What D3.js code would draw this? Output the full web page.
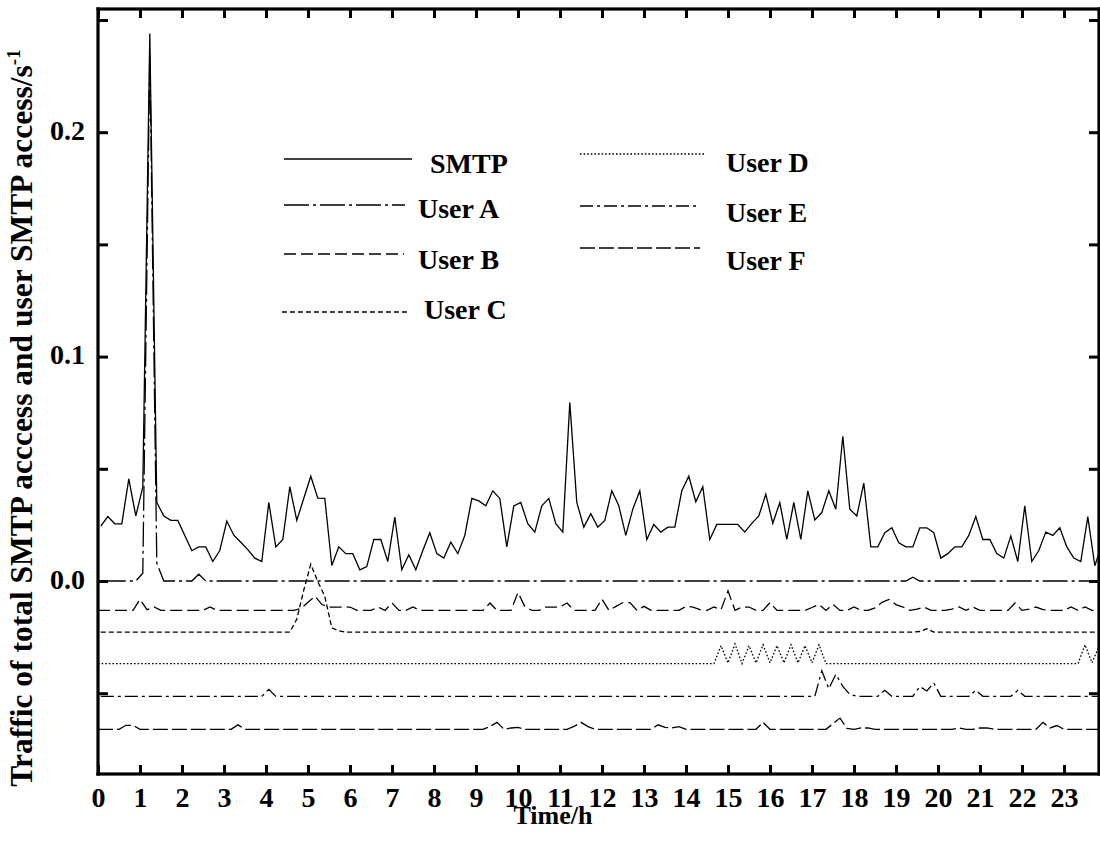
<!DOCTYPE html>
<html>
<head>
<meta charset="utf-8">
<script src="https://cdn.jsdelivr.net/npm/d3@7"></script>
<style>
  html, body { margin: 0; padding: 0; background: #fff; overflow: hidden; }
  svg { display: block; }
  text { font-family: "Liberation Serif", "Times New Roman", serif; font-weight: bold; fill: #000; }
</style>
</head>
<body>
<svg id="chart" width="1100" height="841" viewBox="0 0 1100 841"></svg>
<script>
// ---------------- DATA ----------------
// sample times (minutes after midnight), 10-minute sampling
const minutesSMTP = d3.range(144).map(i => 4 + 10 * i);   // SMTP, users A, C, E
const minutesUser = d3.range(144).map(i => 10 * i);       // users B, D, F

const hourTicks = d3.range(0, 24);
const yLabelTicks = [0, 0.1, 0.2];
const yMinorTicks = [-0.05, 0, 0.05, 0.1, 0.15, 0.2, 0.25];

const smtp = [
  0.0245,0.0287,0.0255,0.0255,0.0455,0.0290,0.0418,0.2440,0.0350,0.0290,0.0270,0.0270,
  0.0203,0.0135,0.0152,0.0152,0.0087,0.0136,0.0267,0.0204,0.0173,0.0140,0.0102,0.0087,
  0.0350,0.0152,0.0185,0.0420,0.0270,0.0369,0.0467,0.0369,0.0368,0.0069,0.0152,0.0122,
  0.0122,0.0050,0.0064,0.0185,0.0185,0.0087,0.0285,0.0050,0.0117,0.0050,0.0136,0.0215,
  0.0122,0.0102,0.0173,0.0122,0.0203,0.0368,0.0357,0.0335,0.0402,0.0368,0.0152,0.0335,
  0.0350,0.0255,0.0218,0.0335,0.0368,0.0255,0.0218,0.0795,0.0350,0.0240,0.0300,0.0240,
  0.0270,0.0402,0.0335,0.0203,0.0320,0.0402,0.0185,0.0252,0.0218,0.0240,0.0240,0.0402,
  0.0467,0.0353,0.0420,0.0185,0.0252,0.0252,0.0252,0.0252,0.0218,0.0257,0.0290,0.0387,
  0.0257,0.0350,0.0185,0.0350,0.0185,0.0402,0.0272,0.0305,0.0402,0.0320,0.0645,0.0320,
  0.0290,0.0436,0.0152,0.0152,0.0215,0.0237,0.0170,0.0152,0.0152,0.0237,0.0237,0.0215,
  0.0102,0.0122,0.0152,0.0152,0.0203,0.0287,0.0185,0.0185,0.0122,0.0102,0.0200,0.0087,
  0.0335,0.0087,0.0136,0.0218,0.0203,0.0237,0.0152,0.0102,0.0087,0.0287,0.0068,0.0160
];

const userA = [
  0,0,0,0,0,0,0.0035,0.235,0.008,0,0,0,
  0,0,0.003,0,0,0,0,0,0,0,0,0,
  0,0,0,0,0,0,0,0,0,0,0,0,
  0,0,0,0,0,0,0,0,0,0,0,0,
  0,0,0,0,0,0,0,0,0,0,0,0,
  0,0,0,0,0,0,0,0,0,0,0,0,
  0,0,0,0,0,0,0,0,0,0,0,0,
  0,0,0,0,0,0,0,0,0,0,0,0,
  0,0,0,0,0,0,0,0,0,0,0,0,
  0,0,0,0,0,0,0,0,0.0017,0,0,0,
  0,0,0,0,0,0,0,0,0,0,0,0,
  0,0,0,0,0,0,0,0,0,0,0,0
];

const userB = [
  -0.0131,-0.0131,-0.0131,-0.0131,-0.0131,-0.0131,-0.0082,-0.0128,-0.0116,-0.0131,-0.0131,-0.0131,
  -0.0131,-0.0131,-0.0131,-0.0131,-0.0116,-0.0131,-0.0131,-0.0131,-0.0131,-0.0131,-0.0131,-0.0131,
  -0.0131,-0.0131,-0.0131,-0.0131,-0.0131,-0.0122,-0.0095,-0.0068,-0.0105,-0.0116,-0.0116,-0.0116,
  -0.0116,-0.0131,-0.0131,-0.0131,-0.0116,-0.0131,-0.0098,-0.0131,-0.0131,-0.0116,-0.0131,-0.0131,
  -0.0131,-0.0131,-0.0131,-0.0131,-0.0131,-0.0131,-0.0131,-0.0131,-0.0098,-0.0131,-0.0131,-0.0131,
  -0.0051,-0.0116,-0.0131,-0.0131,-0.0116,-0.0116,-0.0116,-0.0098,-0.0131,-0.0131,-0.0131,-0.0131,
  -0.0081,-0.0131,-0.0113,-0.0096,-0.0096,-0.0131,-0.0113,-0.0131,-0.0131,-0.0131,-0.0131,-0.0131,
  -0.0113,-0.0116,-0.0128,-0.0131,-0.0116,-0.0128,-0.0044,-0.0131,-0.0116,-0.0116,-0.0131,-0.0131,
  -0.0096,-0.0131,-0.0131,-0.0131,-0.0131,-0.0131,-0.0118,-0.0104,-0.0131,-0.0104,-0.0131,-0.0131,
  -0.0116,-0.0131,-0.0131,-0.0120,-0.0095,-0.0082,-0.0105,-0.0116,-0.0131,-0.0125,-0.0116,-0.0131,
  -0.0131,-0.0131,-0.0125,-0.0116,-0.0131,-0.0116,-0.0131,-0.0131,-0.0131,-0.0131,-0.0131,-0.0098,
  -0.0131,-0.0125,-0.0116,-0.0128,-0.0131,-0.0131,-0.0131,-0.0116,-0.0131,-0.0116,-0.0131,-0.0131
];

const userC = [
  -0.0228,-0.0228,-0.0228,-0.0228,-0.0228,-0.0228,-0.0228,-0.0228,-0.0228,-0.0228,-0.0228,-0.0228,
  -0.0228,-0.0228,-0.0228,-0.0228,-0.0228,-0.0228,-0.0228,-0.0228,-0.0228,-0.0228,-0.0228,-0.0228,
  -0.0228,-0.0228,-0.0228,-0.0228,-0.0170,-0.0040,0.0075,-0.0003,-0.0068,-0.0209,-0.0222,-0.0228,
  -0.0228,-0.0228,-0.0228,-0.0228,-0.0228,-0.0228,-0.0228,-0.0228,-0.0228,-0.0228,-0.0228,-0.0228,
  -0.0228,-0.0228,-0.0228,-0.0228,-0.0228,-0.0228,-0.0228,-0.0228,-0.0228,-0.0228,-0.0228,-0.0228,
  -0.0228,-0.0228,-0.0228,-0.0228,-0.0228,-0.0228,-0.0228,-0.0228,-0.0228,-0.0228,-0.0228,-0.0228,
  -0.0228,-0.0228,-0.0228,-0.0228,-0.0228,-0.0228,-0.0228,-0.0228,-0.0228,-0.0228,-0.0228,-0.0228,
  -0.0228,-0.0228,-0.0228,-0.0228,-0.0228,-0.0228,-0.0228,-0.0228,-0.0228,-0.0228,-0.0228,-0.0228,
  -0.0228,-0.0228,-0.0228,-0.0228,-0.0228,-0.0228,-0.0228,-0.0228,-0.0228,-0.0228,-0.0228,-0.0228,
  -0.0228,-0.0228,-0.0228,-0.0228,-0.0228,-0.0228,-0.0228,-0.0228,-0.0228,-0.0225,-0.0213,-0.0228,
  -0.0228,-0.0228,-0.0228,-0.0228,-0.0228,-0.0228,-0.0228,-0.0228,-0.0228,-0.0228,-0.0228,-0.0228,
  -0.0228,-0.0228,-0.0228,-0.0228,-0.0228,-0.0228,-0.0228,-0.0228,-0.0228,-0.0228,-0.0228,-0.0228
];

const userD = [
  -0.0368,-0.0368,-0.0368,-0.0368,-0.0368,-0.0368,-0.0368,-0.0368,-0.0368,-0.0368,-0.0368,-0.0368,
  -0.0368,-0.0368,-0.0368,-0.0368,-0.0368,-0.0368,-0.0368,-0.0368,-0.0368,-0.0368,-0.0368,-0.0368,
  -0.0368,-0.0368,-0.0368,-0.0368,-0.0368,-0.0368,-0.0368,-0.0368,-0.0368,-0.0368,-0.0368,-0.0368,
  -0.0368,-0.0368,-0.0368,-0.0368,-0.0368,-0.0368,-0.0368,-0.0368,-0.0368,-0.0368,-0.0368,-0.0368,
  -0.0368,-0.0368,-0.0368,-0.0368,-0.0368,-0.0368,-0.0368,-0.0368,-0.0368,-0.0368,-0.0368,-0.0368,
  -0.0368,-0.0368,-0.0368,-0.0368,-0.0368,-0.0368,-0.0368,-0.0368,-0.0368,-0.0368,-0.0368,-0.0368,
  -0.0368,-0.0368,-0.0368,-0.0368,-0.0368,-0.0368,-0.0368,-0.0368,-0.0368,-0.0368,-0.0368,-0.0368,
  -0.0368,-0.0368,-0.0368,-0.0368,-0.0368,-0.0288,-0.0365,-0.0280,-0.0368,-0.0288,-0.0365,-0.0284,
  -0.0365,-0.0288,-0.0365,-0.0284,-0.0365,-0.0288,-0.0365,-0.0284,-0.0368,-0.0368,-0.0368,-0.0368,
  -0.0368,-0.0368,-0.0368,-0.0368,-0.0368,-0.0368,-0.0368,-0.0368,-0.0368,-0.0368,-0.0368,-0.0368,
  -0.0368,-0.0368,-0.0368,-0.0368,-0.0368,-0.0368,-0.0368,-0.0368,-0.0368,-0.0368,-0.0368,-0.0368,
  -0.0368,-0.0368,-0.0368,-0.0368,-0.0368,-0.0368,-0.0368,-0.0368,-0.0368,-0.0284,-0.0365,-0.0290
];

const userE = [
  -0.0514,-0.0514,-0.0514,-0.0514,-0.0514,-0.0514,-0.0514,-0.0514,-0.0514,-0.0514,-0.0514,-0.0514,
  -0.0514,-0.0514,-0.0514,-0.0514,-0.0514,-0.0514,-0.0514,-0.0514,-0.0514,-0.0514,-0.0514,-0.0514,
  -0.0483,-0.0514,-0.0514,-0.0514,-0.0514,-0.0514,-0.0514,-0.0514,-0.0514,-0.0514,-0.0514,-0.0514,
  -0.0514,-0.0514,-0.0514,-0.0514,-0.0514,-0.0514,-0.0514,-0.0514,-0.0514,-0.0514,-0.0514,-0.0514,
  -0.0514,-0.0514,-0.0514,-0.0514,-0.0514,-0.0514,-0.0514,-0.0514,-0.0514,-0.0514,-0.0514,-0.0514,
  -0.0514,-0.0514,-0.0514,-0.0514,-0.0514,-0.0514,-0.0514,-0.0514,-0.0514,-0.0514,-0.0514,-0.0514,
  -0.0514,-0.0514,-0.0514,-0.0514,-0.0514,-0.0514,-0.0514,-0.0514,-0.0514,-0.0514,-0.0514,-0.0514,
  -0.0514,-0.0514,-0.0514,-0.0514,-0.0514,-0.0514,-0.0514,-0.0514,-0.0514,-0.0514,-0.0514,-0.0514,
  -0.0514,-0.0514,-0.0514,-0.0514,-0.0514,-0.0514,-0.0514,-0.0400,-0.0480,-0.0416,-0.0470,-0.0505,
  -0.0514,-0.0514,-0.0514,-0.0514,-0.0487,-0.0514,-0.0514,-0.0514,-0.0514,-0.0470,-0.0490,-0.0454,
  -0.0514,-0.0514,-0.0514,-0.0514,-0.0514,-0.0487,-0.0514,-0.0514,-0.0514,-0.0514,-0.0514,-0.0487,
  -0.0514,-0.0514,-0.0514,-0.0514,-0.0514,-0.0514,-0.0514,-0.0514,-0.0514,-0.0514,-0.0514,-0.0514
];

const userF = [
  -0.0661,-0.0661,-0.0661,-0.0661,-0.0643,-0.0643,-0.0661,-0.0661,-0.0661,-0.0661,-0.0661,-0.0661,
  -0.0661,-0.0661,-0.0661,-0.0661,-0.0661,-0.0661,-0.0661,-0.0661,-0.0641,-0.0661,-0.0661,-0.0661,
  -0.0661,-0.0661,-0.0661,-0.0661,-0.0661,-0.0661,-0.0661,-0.0661,-0.0661,-0.0661,-0.0661,-0.0661,
  -0.0661,-0.0661,-0.0661,-0.0661,-0.0661,-0.0661,-0.0661,-0.0661,-0.0661,-0.0661,-0.0661,-0.0661,
  -0.0661,-0.0661,-0.0661,-0.0661,-0.0661,-0.0661,-0.0661,-0.0661,-0.0648,-0.0630,-0.0661,-0.0655,
  -0.0652,-0.0661,-0.0661,-0.0661,-0.0661,-0.0661,-0.0661,-0.0661,-0.0648,-0.0630,-0.0649,-0.0661,
  -0.0661,-0.0661,-0.0661,-0.0661,-0.0661,-0.0661,-0.0661,-0.0661,-0.0641,-0.0652,-0.0655,-0.0649,
  -0.0661,-0.0661,-0.0661,-0.0661,-0.0661,-0.0661,-0.0661,-0.0661,-0.0661,-0.0661,-0.0661,-0.0630,
  -0.0661,-0.0661,-0.0661,-0.0661,-0.0661,-0.0661,-0.0661,-0.0661,-0.0661,-0.0636,-0.0611,-0.0657,
  -0.0661,-0.0655,-0.0655,-0.0661,-0.0661,-0.0661,-0.0661,-0.0661,-0.0661,-0.0661,-0.0661,-0.0661,
  -0.0661,-0.0661,-0.0661,-0.0655,-0.0661,-0.0661,-0.0655,-0.0655,-0.0661,-0.0661,-0.0661,-0.0661,
  -0.0661,-0.0661,-0.0661,-0.0630,-0.0655,-0.0644,-0.0661,-0.0661,-0.0661,-0.0661,-0.0661,-0.0661
];

const seriesNames = ["SMTP", "User A", "User B", "User C", "User D", "User E", "User F"];

// ---------------- STYLE / LAYOUT ----------------
const W = 1100, H = 841;
const plotL = 98, plotR = 1099, plotT = 9, plotB = 774;

const x = d3.scaleLinear().domain([0, 1001 / 42]).range([plotL, plotR]);
const y = d3.scaleLinear().domain([-(plotB - 581) / 2244, (581 - plotT) / 2244]).range([plotB, plotT]);

const styles = {
  "SMTP":   { dash: null },
  "User A": { dash: "25,4,3,4" },
  "User B": { dash: "12,5" },
  "User C": { dash: "5,3" },
  "User D": { dash: "1.6,2" },
  "User E": { dash: "13,4,3,4" },
  "User F": { dash: "15,4" }
};

const series = [
  { name: "SMTP",   t: minutesSMTP, v: smtp },
  { name: "User A", t: minutesSMTP, v: userA },
  { name: "User B", t: minutesUser, v: userB },
  { name: "User C", t: minutesSMTP, v: userC },
  { name: "User D", t: minutesUser, v: userD },
  { name: "User E", t: minutesSMTP, v: userE },
  { name: "User F", t: minutesUser, v: userF }
];

const svg = d3.select("#chart");
svg.append("rect").attr("width", W).attr("height", H).attr("fill", "#fff");

svg.append("defs").append("clipPath").attr("id", "clip")
  .append("rect").attr("x", plotL).attr("y", plotT)
  .attr("width", plotR - plotL).attr("height", plotB - plotT);

// data lines
const line = d3.line().x(d => x(d[0] / 60)).y(d => y(d[1]));
const gLines = svg.append("g").attr("clip-path", "url(#clip)");
series.slice().reverse().forEach(s => {
  const pts = s.t.map((t, i) => [t, s.v[i]]);
  gLines.append("path")
    .datum(pts)
    .attr("d", line)
    .attr("fill", "none")
    .attr("stroke", "#000")
    .attr("stroke-width", 1.3)
    .attr("stroke-linejoin", "miter")
    .attr("stroke-dasharray", styles[s.name].dash);
});

// axes
const fmtY = d3.format(".1f");
const axB = svg.append("g").attr("transform", `translate(0,${plotB})`)
  .call(d3.axisBottom(x).tickValues(hourTicks).tickSize(-9).tickPadding(13).tickFormat(d3.format("d")));
const axT = svg.append("g").attr("transform", `translate(0,${plotT})`)
  .call(d3.axisTop(x).tickValues(hourTicks).tickSize(-9).tickFormat(""));
const axL = svg.append("g").attr("transform", `translate(${plotL},0)`)
  .call(d3.axisLeft(y).tickValues(yMinorTicks).tickSize(-10).tickPadding(13)
    .tickFormat(d => yLabelTicks.some(v => Math.abs(v - d) < 1e-9) ? fmtY(d) : ""));
const axR = svg.append("g").attr("transform", `translate(${plotR},0)`)
  .call(d3.axisRight(y).tickValues(yMinorTicks).tickSize(-10).tickFormat(""));

[axB, axT, axL, axR].forEach(g => {
  g.attr("fill", null);
  g.select(".domain").remove();
  g.selectAll(".tick line").attr("stroke", "#000").attr("stroke-width", 3);
  g.selectAll("text").attr("font-size", 28).attr("font-family", null).attr("fill", "#000");
});
axL.selectAll("text").attr("dy", "0.25em");
axB.selectAll("text").attr("dy", "0.71em");

// axis titles
svg.append("text").attr("x", 553).attr("y", 824).attr("text-anchor", "middle")
  .attr("font-size", 26).text("Time/h");

const yt = svg.append("text").attr("transform", "translate(32,418) rotate(-90)")
  .attr("text-anchor", "middle").attr("font-size", 31.5);
yt.append("tspan").text("Traffic of total SMTP acccess and user SMTP access/s");
yt.append("tspan").attr("font-size", 19).attr("dy", -12).text("-1");

// legend
const legend = [
  { name: "SMTP",   x1: 284, x2: 412, ly: 159, tx: 430, ty: 173 },
  { name: "User A", x1: 284, x2: 405, ly: 205, tx: 418, ty: 218 },
  { name: "User B", x1: 284, x2: 404, ly: 254, tx: 418, ty: 269 },
  { name: "User C", x1: 282, x2: 408, ly: 312, tx: 424, ty: 319 },
  { name: "User D", x1: 580, x2: 705, ly: 154, tx: 726, ty: 172 },
  { name: "User E", x1: 580, x2: 700, ly: 206, tx: 726, ty: 222 },
  { name: "User F", x1: 580, x2: 700, ly: 248, tx: 726, ty: 270 }
];
const gLeg = svg.append("g");
legend.forEach(l => {
  gLeg.append("line").attr("x1", l.x1).attr("x2", l.x2).attr("y1", l.ly).attr("y2", l.ly)
    .attr("stroke", "#000").attr("stroke-width", 1.3)
    .attr("stroke-dasharray", styles[l.name].dash);
  gLeg.append("text").attr("x", l.tx).attr("y", l.ty).attr("font-size", 28).text(l.name);
});

// frame: four filled bars drawn last
const fw = 3.2;
const frame = svg.append("g").attr("fill", "#000");
frame.append("rect").attr("x", plotL - fw / 2).attr("y", plotT - fw / 2).attr("width", plotR - plotL + fw).attr("height", fw);
frame.append("rect").attr("x", plotL - fw / 2).attr("y", plotB - fw / 2).attr("width", plotR - plotL + fw).attr("height", fw);
frame.append("rect").attr("x", plotL - fw / 2).attr("y", plotT - fw / 2).attr("width", fw).attr("height", plotB - plotT + fw);
frame.append("rect").attr("x", plotR - fw / 2).attr("y", plotT - fw / 2).attr("width", fw).attr("height", plotB - plotT + fw);
</script>
</body>
</html>
